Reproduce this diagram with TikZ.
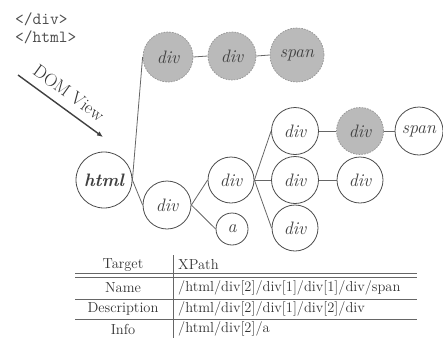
\documentclass[tikz,border=0pt]{standalone}
\usepackage{fontspec}
\usetikzlibrary{arrows.meta}
\begin{document}
\begin{tikzpicture}[x=1pt,y=-1pt,
  tn/.style={circle,draw=black!70,line width=0.8pt,inner sep=0pt,fill=white,text=black!75,font=\fontsize{18}{20}\selectfont\itshape},
  gn/.style={tn,fill=black!27,draw=black!40,dash pattern=on 1.6pt off 1.2pt},
  ed/.style={draw=black!60,line width=0.8pt},
  cell/.style={inner sep=0pt,text=black!80,font=\fontsize{14.5}{16}\selectfont},
  code/.style={inner sep=0pt,anchor=west,text=black!70,font=\fontsize{17}{19}\selectfont\ttfamily},
  rule/.style={draw=black!60,line width=0.7pt}]
\useasboundingbox (0,0) rectangle (443,338);
% code text
\node[code] (c1) at (15,19) {</div>};
\node[code] (c2) at (15,37) {</html>};
% DOM view arrow
\coordinate (a0) at (18,75);
\coordinate (a1) at (103,137);
\draw[line width=1.4pt,draw=black!75,-{Latex[length=6pt,width=5pt]}] (a0) -- (a1);
\node[inner sep=0pt,rotate=-36,text=black!80,font=\fontsize{18}{20}\selectfont] (dom) at (69,93) {DOM View};
% tree nodes
\node[tn,minimum size=56pt,font=\fontsize{18}{20}\selectfont\bfseries\itshape] (html) at (104,180) {html};
\node[tn,minimum size=48pt] (d2) at (167,205) {div};
\node[tn,minimum size=32pt] (a) at (232,229) {a};
\node[tn,minimum size=46pt] (d3) at (231,180) {div};
\node[tn,minimum size=47pt] (d4a) at (295,131) {div};
\node[tn,minimum size=47pt] (d4b) at (295,180) {div};
\node[tn,minimum size=46pt] (d4c) at (295,228) {div};
\node[gn,minimum size=47pt] (g5) at (360,131) {div};
\node[tn,minimum size=46pt] (d5) at (360,180) {div};
\node[tn,minimum size=48pt] (sp) at (419,131) {span};
\node[gn,minimum size=50pt] (g1) at (168,57) {div};
\node[gn,minimum size=48pt] (g2) at (232,56) {div};
\node[gn,minimum size=54pt] (g3) at (297,55) {span};
% edges
\draw[ed] (html.east) -- (g1.west);
\draw[ed] (html.east) -- (d2.west);
\draw[ed] (d2.east) -- (d3.west);
\draw[ed] (d2.east) -- (a.west);
\draw[ed] (d3.east) -- (d4a.west);
\draw[ed] (d3.east) -- (d4b.west);
\draw[ed] (d3.east) -- (d4c.west);
\draw[ed] (d4a.east) -- (g5.west);
\draw[ed] (g5.east) -- (sp.west);
\draw[ed] (d4b.east) -- (d5.west);
\draw[ed] (g1.east) -- (g2.west);
\draw[ed] (g2.east) -- (g3.west);
% table
\node[cell] (t1) at (123,265) {Target};
\node[cell,anchor=west] (t2) at (178,265) {XPath};
\node[cell] (r1) at (123,288) {Name};
\node[cell,anchor=west] (x1) at (178,288) {/html/div[2]/div[1]/div[1]/div/span};
\node[cell] (r2) at (123,308.5) {Description};
\node[cell,anchor=west] (x2) at (178,308.5) {/html/div[2]/div[1]/div[2]/div};
\node[cell] (r3) at (123,329) {Info};
\node[cell,anchor=west] (x3) at (178,329) {/html/div[2]/a};
\draw[rule] (173,255) -- (173,338);
\draw[rule] (75,273.5) -- (417,273.5);
\draw[rule] (75,277.5) -- (417,277.5);
\draw[rule] (75,299) -- (417,299);
\draw[rule] (75,319) -- (417,319);
\end{tikzpicture}
\end{document}
